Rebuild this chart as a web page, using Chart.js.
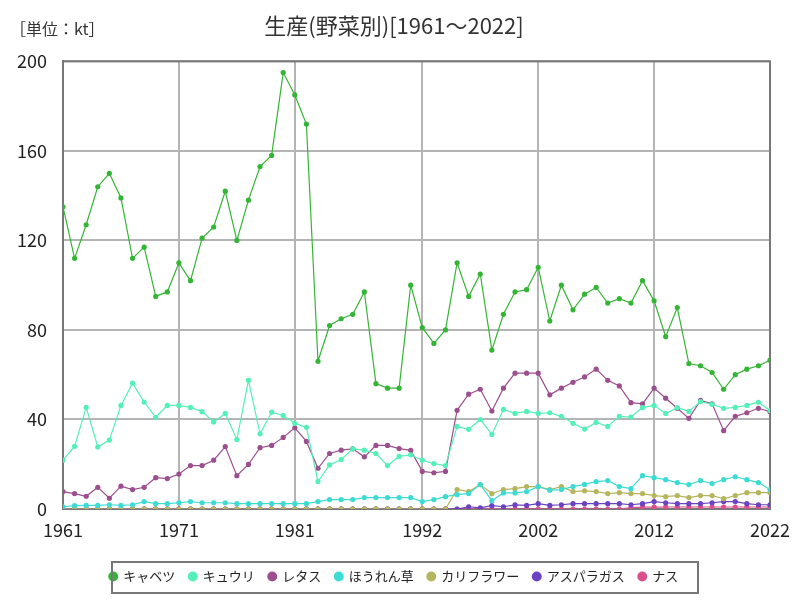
<!DOCTYPE html>
<html>
<head>
<meta charset="utf-8">
<script src="https://cdn.jsdelivr.net/npm/chart.js@4/dist/chart.umd.min.js"></script>
<style>
  html, body { margin: 0; padding: 0; background: #fff; }
  #wrap { width: 800px; height: 600px; }
</style>
</head>
<body>
<div id="wrap"><canvas id="seisan" width="800" height="600"></canvas></div>
<script>
// 年 (1961〜2022)
var years = [];
for (var y = 1961; y <= 2022; y++) years.push(y);

// 軸の目盛
var xTicks = [1961, 1971, 1981, 1992, 2002, 2012, 2022];
var yTicks = [0, 40, 80, 120, 160, 200];

// 野菜別の生産量 (kt)
var cabbage = [135, 112, 127, 144, 150, 139, 112, 117, 95, 97,
  110, 102, 121, 126, 142, 120, 138, 153, 158, 195,
  185, 172, 66, 82, 85, 87, 97, 56, 54, 54,
  100, 81, 74, 80, 110, 95, 105, 71, 87, 97,
  98, 108, 84, 100, 89, 96, 99, 92, 94, 92,
  102, 93, 77, 90, 65, 64, 61, 53.5, 60, 62.5,
  64, 66.5];
var cucumber = [21.8, 28, 45.4, 27.7, 30.8, 46.3, 56.2, 47.8, 41, 46.3,
  46.3, 45.4, 43.5, 38.9, 42.7, 31, 57.5, 33.6, 43.3, 41.8,
  38.3, 36.5, 12.3, 19.7, 22.1, 26.9, 26.3, 24.8, 19.4, 23.5,
  24.2, 21.8, 20.3, 19.4, 36.9, 35.6, 40, 33.3, 44.5, 42.7,
  43.6, 42.7, 43, 41.4, 38.3, 35.7, 38.7, 36.9, 41.4, 41.1,
  45.3, 46.3, 42.7, 45.3, 43.6, 48, 46.8, 45, 45.4, 46.3,
  47.7, 44];
var lettuce = [7.8, 6.9, 5.7, 9.7, 4.8, 10.2, 8.7, 9.7, 14, 13.6,
  15.6, 19.4, 19.4, 21.8, 27.9, 14.9, 19.9, 27.4, 28.4, 32,
  36.3, 30.2, 18.2, 24.8, 26.3, 26.9, 23.3, 28.4, 28.4, 27,
  26.2, 16.8, 16.2, 16.8, 44.1, 51.3, 53.5, 43.8, 54, 60.7,
  60.7, 60.7, 51, 54, 56.6, 59, 62.5, 57.5, 55, 47.5,
  47, 54, 49.5, 45, 40.5, 48.5, 47, 35, 41.4, 43,
  45, 43.5];
var spinach = [1, 1.5, 1.6, 1.6, 1.9, 1.6, 1.9, 3.3, 2.4, 2.4,
  2.8, 3.3, 2.8, 2.8, 2.8, 2.4, 2.4, 2.4, 2.4, 2.4,
  2.4, 2.4, 3.3, 4.2, 4.2, 4.2, 5.1, 5.1, 5.1, 5.1,
  5.1, 3.3, 4.2, 5.5, 6.4, 6.9, 10.9, 3.7, 7.2, 7.2,
  7.8, 10, 8.4, 8.7, 10, 11, 12.2, 12.7, 10, 9.1,
  14.9, 14, 13.1, 11.8, 10.9, 12.7, 11.4, 13.1, 14.4, 13.1,
  11.8, 8.7];
var cauliflower = [0, 0, 0, 0, 0, 0, 0, 0, 0, 0,
  0, 0, 0, 0, 0, 0, 0, 0, 0, 0,
  0, 0, 0, 0, 0, 0, 0, 0, 0, 0,
  0, 0, 0, 0, 8.7, 7.8, 10.9, 6.9, 8.7, 9.1,
  10, 10, 8.7, 10, 7.8, 8.1, 7.8, 6.9, 7.3, 6.9,
  6.9, 6, 5.5, 6, 5.1, 6, 6, 4.6, 6, 7.3,
  7.3, 7.3];
var asparagus = [0, 0, 0, 0, 0, 0, 0, 0, 0, 0,
  0, 0, 0, 0, 0, 0, 0, 0, 0, 0,
  0, 0, 0, 0, 0, 0, 0, 0, 0, 0,
  0, 0, 0, 0, 0, 1, 0.5, 1.5, 1, 1.8,
  1.6, 2.4, 1.6, 1.9, 2.4, 2.4, 2.4, 2.4, 2.4, 1.9,
  2.4, 3.3, 2.8, 2.4, 2.4, 2.4, 2.8, 3.3, 3.3, 2.4,
  1.9, 1.9];
var eggplant = [0, 0, 0, 0, 0, 0, 0, 0, 0, 0,
  0, 0, 0, 0, 0, 0, 0, 0, 0, 0,
  0, 0, 0, 0, 0, 0, 0, 0, 0, 0,
  0, 0, 0, 0, 0, 0, 0, 0, 0, 0,
  0, 0, 0, 0, 0, 0, 0, 0, 0, 0.6,
  0.8, 0.8, 0.9, 0.9, 0.9, 0.9, 0.9, 0.9, 0.9, 0.9,
  0.9, 0.9];

var names = ["キャベツ", "キュウリ", "レタス", "ほうれん草", "カリフラワー", "アスパラガス", "ナス"];
var series = [cabbage, cucumber, lettuce, spinach, cauliflower, asparagus, eggplant];
var colors = ["#35b535", "#55f0b8", "#9c4f8f", "#3ddbd3", "#b5b55e", "#6a42c2", "#d9508c"];

var FONT = "'Noto Sans CJK JP', 'Noto Sans', sans-serif";

function toPoints(arr) {
  return arr.map(function (v, i) { return { x: years[i], y: v }; });
}

var datasets = names.map(function (n, i) {
  return {
    label: n,
    data: toPoints(series[i]),
    borderColor: colors[i],
    backgroundColor: colors[i],
    borderWidth: 1.2,
    pointRadius: 2.6,
    pointBorderWidth: 0,
    pointHoverRadius: 3
  };
});

// 単位、グラフ枠、レジェンドの枠
var extras = {
  id: "extras",
  beforeDatasetsDraw: function (chart) {
    var ctx = chart.ctx, a = chart.chartArea;
    ctx.save();
    ctx.strokeStyle = "#777";
    ctx.lineWidth = 2;
    ctx.strokeRect(a.left, a.top, a.right - a.left, a.bottom - a.top);
    ctx.restore();
  },
  afterDraw: function (chart) {
    var ctx = chart.ctx;
    ctx.save();
    ctx.font = "16px " + FONT;
    ctx.fillStyle = "#333";
    ctx.textBaseline = "middle";
    ctx.fillText("［単位：kt］", 10, 29);

    var boxes = chart.legend.legendHitBoxes;
    if (boxes && boxes.length) {
      var l = 112, r = 698;
      var t = boxes[0].top - 9, b = boxes[0].top + boxes[0].height + 9;
      ctx.strokeStyle = "#777";
      ctx.lineWidth = 2;
      ctx.strokeRect(l, t + 1, r - l, b - t);
    }
    ctx.restore();
  }
};

new Chart("seisan", {
  type: "line",
  data: { datasets: datasets },
  plugins: [extras],
  options: {
    responsive: false,
    animation: false,
    layout: { padding: { left: 8, right: 20, top: 4, bottom: 7 } },
    plugins: {
      title: {
        display: true,
        text: "生産(野菜別)[1961～2022]",
        font: { family: FONT, size: 22, weight: "normal" },
        color: "#333",
        padding: { top: 8, bottom: 23 }
      },
      legend: {
        position: "bottom",
        labels: {
          usePointStyle: true,
          pointStyle: "circle",
          boxWidth: 7,
          boxHeight: 7,
          padding: 14,
          color: "#222",
          font: { family: FONT, size: 13 }
        }
      },
      tooltip: { enabled: false }
    },
    scales: {
      x: {
        type: "linear",
        min: 1961,
        max: 2022,
        afterBuildTicks: function (axis) {
          axis.ticks = xTicks.map(function (v) { return { value: v }; });
        },
        afterFit: function (axis) { axis.height = 47; },
        ticks: {
          autoSkip: false,
          maxRotation: 0,
          padding: 10,
          color: "#222",
          font: { family: FONT, size: 18 },
          callback: function (v) { return String(v); }
        },
        grid: { color: "#b4b4b4", lineWidth: 2, drawTicks: false },
        border: { color: "#777", width: 2 }
      },
      y: {
        min: 0,
        max: 200,
        afterBuildTicks: function (axis) {
          axis.ticks = yTicks.map(function (v) { return { value: v }; });
        },
        afterFit: function (axis) { axis.width = 55; },
        ticks: {
          color: "#222",
          padding: 16,
          font: { family: FONT, size: 18 }
        },
        grid: { color: "#b4b4b4", lineWidth: 2, drawTicks: false },
        border: { color: "#777", width: 2 }
      }
    }
  }
});
</script>
</body>
</html>
